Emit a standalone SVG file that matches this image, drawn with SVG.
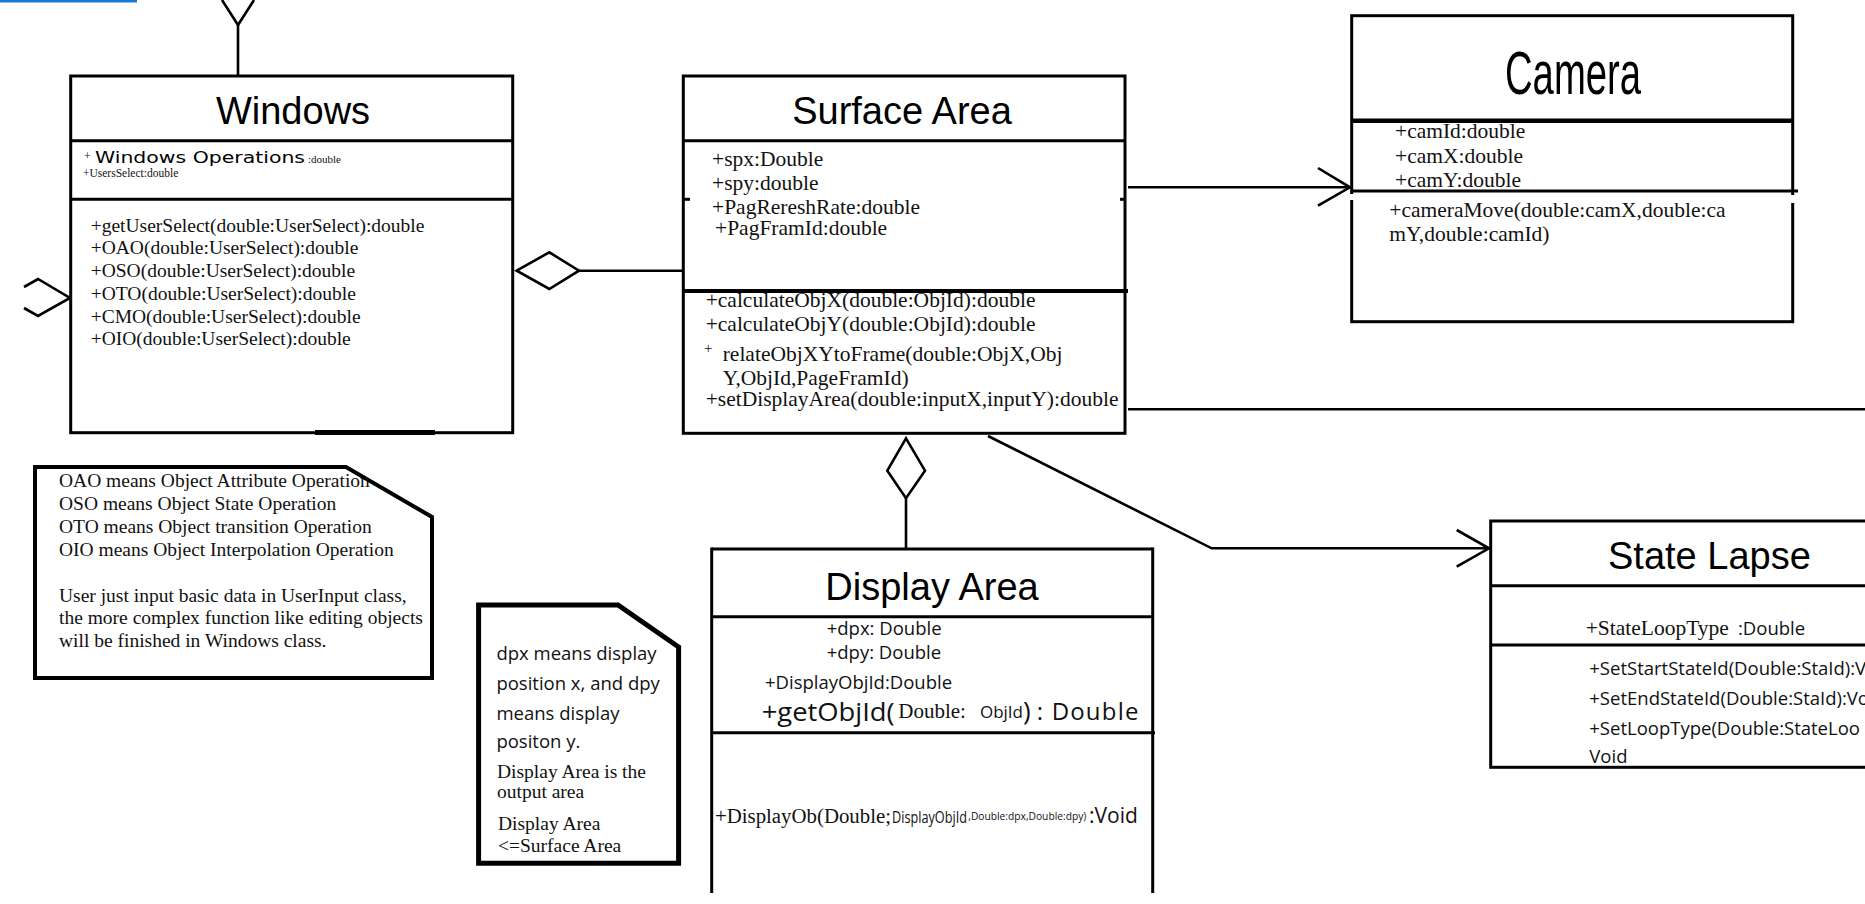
<svg xmlns="http://www.w3.org/2000/svg" width="1865" height="904" viewBox="0 0 1865 904">
<style>
.box{fill:#fff;stroke:#000;stroke-width:3}
.ln{stroke:#000;stroke-width:3;fill:none}
.cn{stroke:#000;stroke-width:2.6;fill:none}
.title{font-family:"Liberation Sans",Arial,sans-serif;font-size:38px;fill:#000}
.sf{font-family:"Liberation Serif","Times New Roman",serif;fill:#111}
.os{font-family:"Open Sans","Noto Sans",sans-serif;fill:#111}
.note{fill:#fff;stroke:#000;stroke-linejoin:miter}
</style>
<rect width="1865" height="904" fill="#fff"/>
<rect x="0" y="0" width="137" height="2.5" fill="#1a7bd6"/>

<g id="connectors">
  <polyline class="cn" points="222,0 238,25 254,0"/>
  <line class="cn" x1="238" y1="25" x2="238" y2="76"/>
  <polyline class="cn" points="24,287 38,279 70,298 38,316 24,308"/>
  <polygon class="cn" fill="#fff" points="516.7,270.7 549.3,252.3 579,270.7 549.3,289"/>
  <line class="cn" x1="579" y1="270.7" x2="683" y2="270.7"/>
  <line class="cn" x1="1128" y1="187.3" x2="1350" y2="187.3"/>
  <polyline class="cn" points="1318,168 1350,187.3 1318,205.7"/>
  <line class="cn" x1="1128" y1="409.3" x2="1865" y2="409.3"/>
  <polyline class="cn" points="988,436 1211.7,548.3 1489,548.3"/>
  <polyline class="cn" points="1456.7,530 1489,548.3 1456.7,566.7"/>
  <polygon class="cn" fill="#fff" points="906,438.3 925,470.7 906,498.3 887.3,470.7"/>
  <line class="cn" x1="906" y1="498.3" x2="906" y2="549"/>
</g>

<g id="windows">
  <rect class="box" x="70.7" y="76" width="442" height="356.7"/>
  <line class="ln" x1="70.7" y1="140.7" x2="512.7" y2="140.7"/>
  <line class="ln" x1="70.7" y1="199.3" x2="512.7" y2="199.3"/>
  <rect x="315" y="430" width="120" height="5" fill="#000"/>
  <text class="title" x="293" y="124" text-anchor="middle">Windows</text>
  <text class="sf" x="84" y="160" font-size="12">+</text>
  <text x="95" y="163" font-family="'DejaVu Sans',Verdana,sans-serif" font-size="16" textLength="210" lengthAdjust="spacingAndGlyphs">Windows Operations</text>
  <text class="sf" x="308" y="163" font-size="11">:double</text>
  <text class="sf" x="83" y="177" font-size="11.5">+UsersSelect:double</text>
  <g class="sf" font-size="19.5">
    <text x="90.7" y="231.7">+getUserSelect(double:UserSelect):double</text>
    <text x="90.7" y="254.3">+OAO(double:UserSelect):double</text>
    <text x="90.7" y="277.3">+OSO(double:UserSelect):double</text>
    <text x="90.7" y="300">+OTO(double:UserSelect):double</text>
    <text x="90.7" y="322.7">+CMO(double:UserSelect):double</text>
    <text x="90.7" y="345.3">+OIO(double:UserSelect):double</text>
  </g>
</g>

<g id="surface-area">
  <rect class="box" x="683.3" y="76" width="441.7" height="357.3"/>
  <line class="ln" x1="683.3" y1="140.7" x2="1125" y2="140.7"/>
  <line x1="683.3" y1="291" x2="1128" y2="291" stroke="#000" stroke-width="4"/>
  <line x1="683.3" y1="199.3" x2="690" y2="199.3" stroke="#000" stroke-width="3"/>
  <line x1="1120" y1="199.3" x2="1125" y2="199.3" stroke="#000" stroke-width="3"/>
  <text class="title" x="902" y="124" text-anchor="middle">Surface Area</text>
  <g class="sf" font-size="21.5">
    <text x="712" y="165.7">+spx:Double</text>
    <text x="712" y="190">+spy:double</text>
    <text x="712" y="214.3">+PagRereshRate:double</text>
    <text x="715" y="235">+PagFramId:double</text>
    <text x="705.7" y="306.7">+calculateObjX(double:ObjId):double</text>
    <text x="705.7" y="331">+calculateObjY(double:ObjId):double</text>
    <text x="704" y="353" font-size="15">+</text>
    <text x="722.7" y="361">relateObjXYtoFrame(double:ObjX,Obj</text>
    <text x="722.7" y="385">Y,ObjId,PageFramId)</text>
    <text x="705.7" y="406">+setDisplayArea(double:inputX,inputY):double</text>
  </g>
</g>

<g id="camera">
  <rect class="box" x="1351.7" y="15.7" width="441" height="306"/>
  <line x1="1351.7" y1="120.7" x2="1792.7" y2="120.7" stroke="#000" stroke-width="4.5"/>
  <line class="ln" x1="1351.7" y1="191" x2="1798" y2="191"/>
  <rect x="1349" y="194" width="6" height="6" fill="#fff"/>
  <rect x="1790" y="195" width="6" height="8" fill="#fff"/>
  <text x="1505" y="94" font-family="'Liberation Sans',Arial,sans-serif" font-size="62" textLength="136" lengthAdjust="spacingAndGlyphs">Camera</text>
  <g class="sf" font-size="21.5">
    <text x="1395" y="138.3">+camId:double</text>
    <text x="1395" y="163.3">+camX:double</text>
    <text x="1395" y="187.3">+camY:double</text>
    <text x="1389.3" y="216.7">+cameraMove(double:camX,double:ca</text>
    <text x="1389.3" y="240.7">mY,double:camId)</text>
  </g>
</g>

<g id="state-lapse">
  <rect class="box" x="1490.7" y="521" width="400" height="246.3"/>
  <line class="ln" x1="1490.7" y1="585.7" x2="1865" y2="585.7"/>
  <line class="ln" x1="1490.7" y1="645" x2="1865" y2="645"/>
  <text class="title" x="1608" y="569">State Lapse</text>
  <text class="sf" x="1585.7" y="635" font-size="21.5">+StateLoopType</text>
  <text class="os" x="1738" y="635" font-size="18.5">:Double</text>
  <g class="os" font-size="18.5">
    <text x="1589.3" y="675">+SetStartStateId(Double:StaId):V</text>
    <text x="1589.3" y="705">+SetEndStateId(Double:StaId):Vo</text>
    <text x="1589.3" y="735">+SetLoopType(Double:StateLoo</text>
    <text x="1589.3" y="763.3">Void</text>
  </g>
</g>

<g id="display-area">
  <line class="ln" x1="711.7" y1="549" x2="1152.7" y2="549"/>
  <line class="ln" x1="711.7" y1="547.5" x2="711.7" y2="893"/>
  <line class="ln" x1="1152.7" y1="547.5" x2="1152.7" y2="893"/>
  <line class="ln" x1="711.7" y1="616.7" x2="1152.7" y2="616.7"/>
  <line class="ln" x1="711.7" y1="732.7" x2="1155" y2="732.7"/>
  <text class="title" x="932" y="600" text-anchor="middle">Display Area</text>
  <g class="os" font-size="18.5">
    <text x="826.7" y="635">+dpx: Double</text>
    <text x="826.7" y="659.3">+dpy: Double</text>
    <text x="765" y="689.3">+DisplayObjId:Double</text>
  </g>
  <text class="os" x="761.7" y="721" font-size="26" textLength="133" lengthAdjust="spacingAndGlyphs">+getObjId(</text>
  <text class="sf" x="898.3" y="718" font-size="21">Double:</text>
  <text class="os" x="980" y="718" font-size="17" textLength="43" lengthAdjust="spacingAndGlyphs">ObjId</text>
  <text class="os" x="1023" y="720" font-size="26">)</text>
  <text class="os" x="1036.7" y="720" font-size="24" textLength="101.7" lengthAdjust="spacing">: Double</text>
  <text class="sf" x="715" y="822.7" font-size="20.5" textLength="176" lengthAdjust="spacingAndGlyphs">+DisplayOb(Double;</text>
  <text class="os" x="892" y="822.7" font-size="17" textLength="75" lengthAdjust="spacingAndGlyphs">DisplayObjId</text>
  <text class="os" x="968.3" y="820" font-size="10" textLength="118" lengthAdjust="spacingAndGlyphs">,Double:dpx,Double:dpy)</text>
  <text class="os" x="1089" y="822.7" font-size="21">:Void</text>
</g>

<g id="note-abbrev">
  <path class="note" stroke-width="4" d="M35,467 L346,467 L432,517 L432,678 L35,678 Z"/>
  <g class="sf" font-size="19.5">
    <text x="59" y="486.7">OAO means Object Attribute Operation</text>
    <text x="59" y="510">OSO means Object State Operation</text>
    <text x="59" y="533.3">OTO means Object transition Operation</text>
    <text x="59" y="556">OIO means Object Interpolation Operation</text>
    <text x="59" y="601.7">User just input basic data in UserInput class,</text>
    <text x="59" y="624">the more complex function like editing objects</text>
    <text x="59" y="646.7">will be finished in Windows class.</text>
  </g>
</g>

<g id="note-display">
  <path class="note" stroke-width="5" d="M478.6,605 L618,605 L678.6,647 L678.6,863.3 L478.6,863.3 Z"/>
  <g class="os" font-size="18.5">
    <text x="496.4" y="660">dpx means display</text>
    <text x="496.4" y="690">position x, and dpy</text>
    <text x="496.4" y="720">means display</text>
    <text x="496.4" y="748.3">positon y.</text>
  </g>
  <g class="sf" font-size="19.5">
    <text x="497" y="778.3">Display Area is the</text>
    <text x="497" y="798.3">output area</text>
    <text x="498" y="830">Display Area</text>
    <text x="498" y="851.7">&lt;=Surface Area</text>
  </g>
</g>
</svg>
